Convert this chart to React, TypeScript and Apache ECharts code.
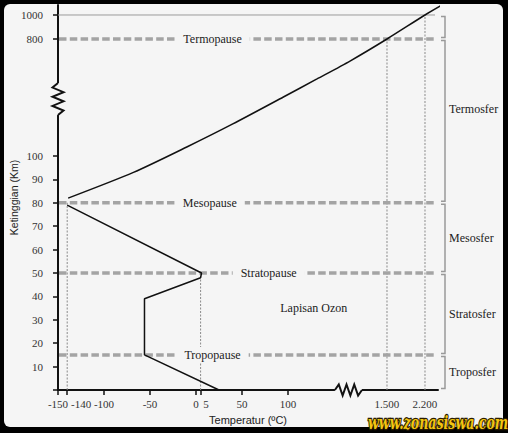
import React, { useEffect, useRef } from "react";
import * as echarts from "echarts";

// ---- data (real units: °C, km) ----
const profileTemp = [25, -56, -56, 5, 6, -140];
const profileAlt = [0, 15, 39, 48, 50, 79];
const thermoTemp = [-139, -68, -10, 40, 95, 510, 977, 1500, 2200, 2513];
const thermoAlt = [82, 93, 154, 292, 453, 561, 668, 800, 1000, 1083];

const xTickValues = [-150, -140, -100, -50, 0, 5, 50, 100, 1500, 2200];
const xTickLabels = ["-150", "-140", "-100", "-50", "0", "5", "50", "100", "1.500", "2.200"];
const yTickValues = [0, 10, 20, 30, 40, 50, 60, 70, 80, 90, 100, 800, 1000];
const yLabelValues = [10, 20, 30, 40, 50, 60, 70, 80, 90, 100, 800, 1000];

const pauseNames = ["Termopause", "Mesopause", "Stratopause", "Tropopause"];
const pauseAlt = [800, 80, 50, 15];

const guideTemp = [-140, 5, 1500, 2200];
const guideAlt = [80, 50, 800, 1000];

const bracketTop = [1000, 800, 80, 50, 15];
const bracketBottom = [800, 80, 50, 15, 0];
const layerNames = ["Termosfer", "Mesosfer", "Stratosfer", "Troposfer"];
const layerTop = [1000, 80, 50, 15];
const layerBottom = [80, 50, 15, 0];

// ---- broken-axis scales (real value -> axis position) ----
const X_SCALE = [[-150, -150], [100, 100], [1500, 207.6], [2200, 248.9]];
const Y_SCALE = [[0, 0], [100, 100], [800, 150], [1000, 160.26]];
const X_MAX = 263.04;
const Y_MAX = 164.53;
const X_ZIG = [151, 180.4];
const Y_ZIG = [117.5, 131.2];

// label layout (temperature where each pause label sits)
const pauseLabelT = [18, 15, 79, 18];
const ozonLabel = { t: 128, alt: 35 };

function piecewise(v: number, table: number[][]): number {
  let i = 0;
  while (i < table.length - 2 && v > table[i + 1][0]) i++;
  const [a0, b0] = table[i];
  const [a1, b1] = table[i + 1];
  return b0 + ((v - a0) * (b1 - b0)) / (a1 - a0);
}
const toX = (t: number) => piecewise(t, X_SCALE);
const toY = (a: number) => piecewise(a, Y_SCALE);

const BG = "#f5f5f5";
const SERIF = "'Liberation Serif', 'Times New Roman', serif";
const SANS = "'Liberation Sans', Arial, sans-serif";
const DASH = "#a4a4a4";
const INK = "#111";

function nearest(v: number, vals: number[], map: (x: number) => number) {
  let best = 0;
  let bd = Infinity;
  vals.forEach((x, i) => {
    const d = Math.abs(map(x) - v);
    if (d < bd) {
      bd = d;
      best = i;
    }
  });
  return best;
}

export default function App() {
  const ref = useRef<HTMLDivElement>(null);
  useEffect(() => {
    const chart = echarts.init(ref.current!, null, { renderer: "svg" });
    const option: any = {
      animation: false,
      backgroundColor: "#000",
      graphic: [
        {
          type: "rect",
          z: -100,
          silent: true,
          shape: { x: 4, y: 4, width: 499, height: 423, r: 6 },
          style: { fill: BG },
        },
        {
          type: "text",
          z: 100,
          silent: true,
          x: 368,
          y: 414,
          scaleX: 0.7,
          style: {
            text: "www.zonasiswa.com",
            font: `italic bold 18px 'DejaVu Serif', serif`,
            fill: "#f3c612",
            stroke: "#2a1c00",
            lineWidth: 2.5,
            align: "left",
            verticalAlign: "top",
          },
        },
      ],
      grid: { left: 58, right: 70, top: 5, bottom: 43, containLabel: false, outerBoundsMode: "none" },
      xAxis: {
        type: "value",
        min: -150,
        max: X_MAX,
        splitLine: { show: false },
        axisLine: { onZero: false, lineStyle: { color: INK, width: 2 } },
        axisTick: {
          customValues: xTickValues.filter((t) => t <= 100).map(toX),
          length: 5,
          lineStyle: { color: INK, width: 1.5 },
        },
        axisLabel: {
          customValues: xTickValues.map(toX),
          margin: 8,
          fontFamily: SERIF,
          fontSize: 11,
          color: "#333",
          formatter: (v: number) => {
            const i = nearest(v, xTickValues, toX);
            const s = xTickLabels[i];
            if (xTickValues[i] === -140) return `{r|${s}}`;
            if (xTickValues[i] === 5) return `{f|${s}}`;
            return s;
          },
          rich: {
            r: { padding: [0, 0, 0, 28], fontFamily: SERIF, fontSize: 11, color: "#333" },
            f: { padding: [0, 0, 0, 11], fontFamily: SERIF, fontSize: 11, color: "#333" },
          },
        },
        name: "Temperatur (ºC)",
        nameLocation: "middle",
        nameGap: 24,
        nameMoveOverlap: false,
        nameTextStyle: { fontFamily: SANS, fontSize: 11, color: "#222" },
      },
      yAxis: {
        type: "value",
        min: 0,
        max: Y_MAX,
        splitLine: { show: false },
        axisLine: { onZero: false, lineStyle: { color: INK, width: 2 } },
        axisTick: {
          customValues: yTickValues.map(toY),
          length: 5,
          lineStyle: { color: INK, width: 1.5 },
        },
        axisLabel: {
          customValues: yLabelValues.map(toY),
          margin: 15,
          fontFamily: SERIF,
          fontSize: 11,
          color: "#333",
          formatter: (v: number) => String(yLabelValues[nearest(v, yLabelValues, toY)]),
        },
        name: "Ketinggian (Km)",
        nameLocation: "middle",
        nameGap: 39,
        nameMoveOverlap: false,
        nameTextStyle: { fontFamily: SANS, fontSize: 10.5, color: "#222" },
      },
      series: [
        // vertical guide lines + top line at 1000 km
        {
          type: "custom",
          silent: true,
          z: 1,
          data: guideTemp.map((_, i) => [i]),
          renderItem: (params: any, api: any) => {
            const i = api.value(0);
            const p0 = api.coord([toX(guideTemp[i]), 0]);
            const p1 = api.coord([toX(guideTemp[i]), toY(guideAlt[i])]);
            const children: any[] = [
              {
                type: "line",
                shape: { x1: p0[0], y1: p0[1], x2: p1[0], y2: p1[1] },
                style: { stroke: "#8a8a8a", lineWidth: 1, lineDash: [2, 1.5] },
              },
            ];
            if (i === 3) {
              const cs = params.coordSys;
              children.push({
                type: "line",
                shape: { x1: cs.x, y1: p1[1], x2: cs.x + cs.width - 3, y2: p1[1] },
                style: { stroke: "#9a9a9a", lineWidth: 1 },
              });
            }
            return { type: "group", children };
          },
        },
        // pause boundaries
        {
          type: "custom",
          silent: true,
          z: 2,
          data: pauseAlt.map((_, i) => [i]),
          renderItem: (params: any, api: any) => {
            const i = api.value(0);
            const cs = params.coordSys;
            const y = api.coord([-150, toY(pauseAlt[i])])[1];
            const lx = api.coord([toX(pauseLabelT[i]), 0])[0];
            return {
              type: "group",
              children: [
                {
                  type: "line",
                  shape: { x1: cs.x + 1, y1: y, x2: cs.x + cs.width - 1, y2: y },
                  style: { stroke: DASH, lineWidth: 3.5, lineDash: [7.5, 3.3] },
                },
                {
                  type: "text",
                  x: lx,
                  y: y,
                  style: {
                    text: pauseNames[i],
                    font: `12px ${SERIF}`,
                    fill: "#222",
                    align: "center",
                    verticalAlign: "middle",
                    backgroundColor: BG,
                    padding: [2, 8],
                  },
                },
              ],
            };
          },
        },
        // layer brackets and names
        {
          type: "custom",
          silent: true,
          z: 2,
          data: bracketTop.map((_, i) => [i]),
          renderItem: (params: any, api: any) => {
            const i = api.value(0);
            const cs = params.coordSys;
            const bx = cs.x + cs.width + 7;
            const yt = api.coord([0, toY(bracketTop[i])])[1] + 1.5;
            const yb = api.coord([0, toY(bracketBottom[i])])[1] - 1.5;
            const children: any[] = [
              {
                type: "polyline",
                shape: { points: [[bx - 4, yt], [bx, yt], [bx, yb], [bx - 4, yb]] },
                style: { stroke: "#999", lineWidth: 1.5, fill: null },
              },
            ];
            if (i < layerNames.length) {
              const lt = api.coord([0, toY(layerTop[i])])[1];
              const lb = api.coord([0, toY(layerBottom[i])])[1];
              children.push({
                type: "text",
                x: bx + 4,
                y: (lt + lb) / 2,
                style: {
                  text: layerNames[i],
                  font: `12px ${SERIF}`,
                  fill: "#222",
                  align: "left",
                  verticalAlign: "middle",
                },
              });
            }
            return { type: "group", children };
          },
        },
        // axis break zigzags + ozone label
        {
          type: "custom",
          silent: true,
          z: 6,
          data: [[0]],
          renderItem: (params: any, api: any) => {
            const cs = params.coordSys;
            const ax = cs.x;
            const ay = cs.y + cs.height;
            const yb = api.coord([-150, Y_ZIG[0]])[1];
            const yt = api.coord([-150, Y_ZIG[1]])[1];
            const xl = api.coord([X_ZIG[0], 0])[0];
            const xr = api.coord([X_ZIG[1], 0])[0];
            const n = 7;
            const ypts: number[][] = [[ax, yb]];
            for (let k = 1; k < n; k++) ypts.push([ax + (k % 2 ? 5.5 : -5.5), yb + ((yt - yb) * k) / n]);
            ypts.push([ax, yt]);
            const xpts: number[][] = [[xl, ay]];
            for (let k = 1; k < n; k++) xpts.push([xl + ((xr - xl) * k) / n, ay + (k % 2 ? -5.5 : 5.5)]);
            xpts.push([xr, ay]);
            const oz = api.coord([ozonLabel.t, ozonLabel.alt]);
            return {
              type: "group",
              children: [
                { type: "rect", shape: { x: ax - 2, y: yt, width: 4, height: yb - yt }, style: { fill: BG } },
                { type: "rect", shape: { x: xl, y: ay - 2, width: xr - xl, height: 4 }, style: { fill: BG } },
                { type: "polyline", shape: { points: ypts }, style: { stroke: INK, lineWidth: 2, fill: null } },
                { type: "polyline", shape: { points: xpts }, style: { stroke: INK, lineWidth: 2, fill: null } },
                {
                  type: "text",
                  x: oz[0],
                  y: oz[1],
                  style: {
                    text: "Lapisan Ozon",
                    font: `12px ${SERIF}`,
                    fill: "#222",
                    align: "center",
                    verticalAlign: "middle",
                  },
                },
              ],
            };
          },
        },
        {
          type: "line",
          z: 5,
          silent: true,
          symbol: "none",
          data: profileTemp.map((t, i) => [toX(t), toY(profileAlt[i])]),
          lineStyle: { color: INK, width: 1.5 },
        },
        {
          type: "line",
          z: 5,
          silent: true,
          symbol: "none",
          clip: false,
          smooth: 0.25,
          data: thermoTemp.map((t, i) => [toX(t), toY(thermoAlt[i])]),
          lineStyle: { color: INK, width: 1.5 },
        },
      ],
    };
    chart.setOption(option);
    return () => chart.dispose();
  }, []);
  return (
    <div
      ref={ref}
      style={{ position: "fixed", left: 0, top: 0, width: 508, height: 433 }}
    />
  );
}
